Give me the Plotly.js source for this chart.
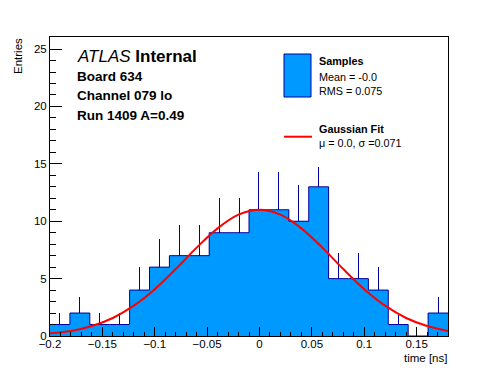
<!DOCTYPE html>
<html>
<head>
<meta charset="utf-8">
<script src="https://cdn.plot.ly/plotly-3.0.1.min.js"></script>
<style>html,body{margin:0;padding:0;background:#fff;}#chart{width:498px;height:374px;}</style>
</head>
<body>
<div id="chart"></div>
<script>
// ---- data ----
const binEdges = [-0.2, -0.181, -0.162, -0.143, -0.124, -0.105, -0.086, -0.067, -0.048, -0.029, -0.01,
                  0.009, 0.028, 0.047, 0.066, 0.085, 0.104, 0.123, 0.142, 0.161, 0.18];
const counts = [1, 2, 1, 1, 4, 6, 7, 7, 9, 9, 11, 11, 10, 13, 5, 5, 4, 1, 0, 2];
const errUp = [1, 1.41, 1, 1, 2, 2.45, 2.65, 2.65, 3, 3, 3.32, 3.32, 3.16, 1.7, 2.24, 2.24, 2, 1, 0, 1.41];
const fitX = [-0.2, -0.18, -0.16, -0.14, -0.12, -0.1, -0.08, -0.06, -0.04, -0.02, 0,
              0.02, 0.04, 0.06, 0.08, 0.1, 0.12, 0.14, 0.16, 0.18];
const fitY = [0.25, 0.44, 0.87, 1.57, 2.64, 4.08, 5.83, 7.7, 9.38, 10.57, 11,
              10.57, 9.38, 7.7, 5.83, 4.08, 2.64, 1.57, 0.87, 0.44];
const xTickVals = [-0.2, -0.15, -0.1, -0.05, 0, 0.05, 0.1, 0.15];
const xTickText = ['\u22120.2', '\u22120.15', '\u22120.1', '\u22120.05', '0', '0.05', '0.1', '0.15'];
const yTickVals = [0, 5, 10, 15, 20, 25];
const yTickText = ['0', '5', '10', '15', '20', '25'];
const headerLines = ['Board 634', 'Channel 079 lo', 'Run 1409 A=0.49'];
const legendSamples = ['Samples', 'Mean = -0.0', 'RMS = 0.075'];
const legendFit = ['Gaussian Fit', '\u03bc = 0.0, \u03c3 =0.071'];

// ---- derived ----
const centers = counts.map((c, i) => (binEdges[i] + binEdges[i + 1]) / 2);
const widths = counts.map((c, i) => binEdges[i + 1] - binEdges[i]);
const outlineY = counts.concat([counts[counts.length - 1]]);

// ---- layout helpers (pixel -> paper) ----
const L = 50, R = 448, T = 37, B = 336;
const px = x => (x - L) / (R - L);
const py = y => (B - y) / (B - T);

const FONT = 'Liberation Sans, Arial, Helvetica, sans-serif';
const FILL = '#0099ff';
const EDGE = '#000099';

const traces = [
  {
    type: 'bar', x: centers, y: counts, width: widths,
    marker: {color: FILL, line: {width: 0}},
    error_y: {type: 'data', symmetric: false, array: errUp, arrayminus: counts.map(() => 0),
              width: 0, thickness: 1, color: EDGE},
    showlegend: false, hoverinfo: 'skip'
  },
  {
    type: 'scatter', mode: 'lines', x: binEdges, y: outlineY,
    line: {shape: 'hv', color: EDGE, width: 1},
    showlegend: false, hoverinfo: 'skip'
  },
  {
    type: 'scatter', mode: 'lines', x: fitX, y: fitY,
    line: {shape: 'spline', color: '#ff0000', width: 2},
    showlegend: false, hoverinfo: 'skip'
  }
];

const ann = [];
ann.push({text: '<i>ATLAS</i> <b>Internal</b>', x: px(76), y: py(57), xanchor: 'left', yanchor: 'middle',
          font: {family: FONT, size: 17, color: '#000'}});
const headerY = [76, 95.5, 115];
headerLines.forEach((t, i) => ann.push({text: '<b>' + t + '</b>', x: px(76), y: py(headerY[i]),
  xanchor: 'left', yanchor: 'middle', font: {family: FONT, size: 13.5, color: '#000'}}));
const sampY = [61.5, 77, 90.5];
legendSamples.forEach((t, i) => ann.push({text: i === 0 ? '<b>' + t + '</b>' : t, x: px(318), y: py(sampY[i]),
  xanchor: 'left', yanchor: 'middle', font: {family: FONT, size: 10.8, color: '#000'}}));
const fitYpos = [129, 143];
legendFit.forEach((t, i) => ann.push({text: i === 0 ? '<b>' + t + '</b>' : t, x: px(318), y: py(fitYpos[i]),
  xanchor: 'left', yanchor: 'middle', font: {family: FONT, size: 10.8, color: '#000'}}));
ann.push({text: 'Entries', textangle: -90, x: px(18), y: py(37), xanchor: 'center', yanchor: 'top',
          font: {family: FONT, size: 11.5, color: '#000'}});
ann.push({text: 'time [ns]', x: px(448), y: py(358), xanchor: 'right', yanchor: 'middle',
          font: {family: FONT, size: 11.5, color: '#000'}});
ann.forEach(a => { a.xref = 'paper'; a.yref = 'paper'; a.showarrow = false; a.borderpad = 0; });

const shapes = [
  {type: 'rect', xref: 'paper', yref: 'paper', x0: px(284), x1: px(311), y0: py(54), y1: py(97),
   fillcolor: FILL, line: {color: EDGE, width: 1}},
  {type: 'line', xref: 'paper', yref: 'paper', x0: px(284), x1: px(312), y0: py(136.7), y1: py(136.7),
   line: {color: '#ff0000', width: 2}}
];

const axisCommon = {
  showline: true, linecolor: '#000', linewidth: 1, mirror: true,
  ticks: 'inside', tickcolor: '#000', tickwidth: 1,
  showgrid: false, zeroline: false, fixedrange: true,
  tickfont: {family: FONT, size: 11.5, color: '#000'}
};

const layout = {
  width: 498, height: 374,
  margin: {l: L, r: 498 - R, t: T, b: 374 - B, pad: 0},
  paper_bgcolor: '#fff', plot_bgcolor: '#fff',
  bargap: 0, showlegend: false,
  xaxis: Object.assign({}, axisCommon, {
    range: [-0.2, 0.18], tickmode: 'array', tickvals: xTickVals, ticktext: xTickText, ticklen: 9,
    ticklabelstandoff: -3,
    minor: {tickmode: 'linear', tick0: 0, dtick: 0.01, ticks: 'inside', ticklen: 4.5, tickcolor: '#000', showgrid: false}
  }),
  yaxis: Object.assign({}, axisCommon, {
    range: [0, 26.05], tickmode: 'array', tickvals: yTickVals, ticktext: yTickText, ticklen: 12,
    minor: {tickmode: 'linear', tick0: 0, dtick: 1, ticks: 'inside', ticklen: 6, tickcolor: '#000', showgrid: false}
  }),
  annotations: ann,
  shapes: shapes
};

Plotly.newPlot('chart', traces, layout, {staticPlot: true, displayModeBar: false});
</script>
</body>
</html>
